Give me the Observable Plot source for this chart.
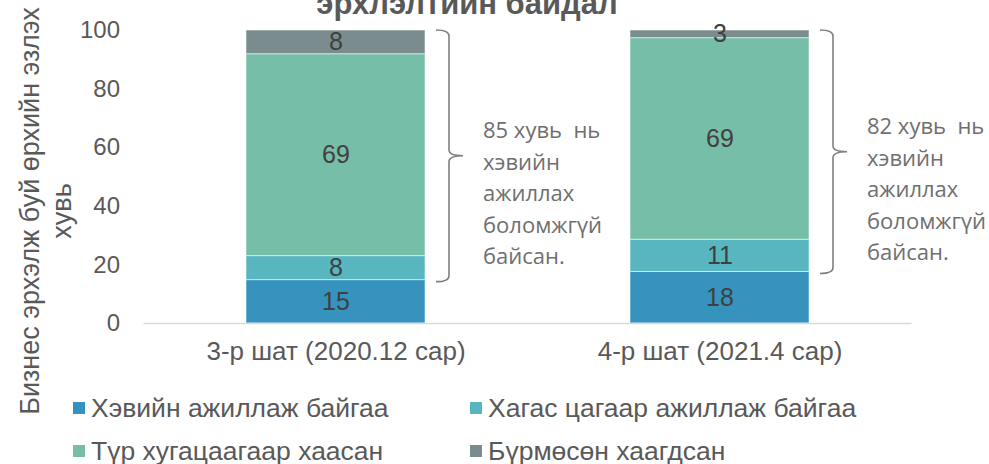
<!DOCTYPE html>
<html>
<head>
<meta charset="utf-8">
<script src="https://cdn.jsdelivr.net/npm/d3@7"></script>
<script src="https://cdn.jsdelivr.net/npm/@observablehq/plot@0.6"></script>
<style>
  html, body { margin: 0; padding: 0; background: #fff; }
  #wrap { position: relative; width: 989px; height: 464px; overflow: hidden; font-family: "Liberation Sans", Arial, sans-serif; }
  #title { position: absolute; top: -12px; left: 467px; transform: translateX(-50%); white-space: nowrap;
           font-weight: bold; font-size: 31px; line-height: 31px; color: #595959; }
  #chart { position: absolute; top: 0; left: 0; }
  #ylabel { position: absolute; left: 46px; top: 211px; transform: translate(-50%, -50%) rotate(-90deg);
            white-space: pre; text-align: center; font-size: 27px; line-height: 32px; color: #595959; }
  .leg { position: absolute; display: flex; align-items: center; white-space: nowrap; font-size: 26.5px; color: #595959; }
  .leg i { display: inline-block; width: 12px; height: 12px; margin-right: 6px; }
</style>
</head>
<body>
<div id="wrap">
  <div id="chart"></div>
  <div id="title">эрхлэлтийн байдал</div>
  <div id="ylabel"></div>
  <div id="legend"></div>
</div>
<script>
// ---- data ----
const stages = ["3-р шат (2020.12 сар)", "4-р шат (2021.4 сар)"];
const seriesNames = ["Хэвийн ажиллаж байгаа", "Хагас цагаар ажиллаж байгаа", "Түр хугацаагаар хаасан", "Бүрмөсөн хаагдсан"];
const seriesColors = ["#3593be", "#58b6c0", "#76bea8", "#7a8c8d"];
const normalOp   = [14.8, 17.6];
const partTime   = [8.2, 11.0];
const tempClosed = [68.9, 68.8];
const permClosed = [8.1, 2.6];
const notNormalShare = [85, 82];
const yTicks = [0, 20, 40, 60, 80, 100];
const yLabelLines = ["Бизнес эрхэлж буй өрхийн эзлэх", "хувь"];
const annotWords = ["хувь  нь", "хэвийн", "ажиллах", "боломжгүй", "байсан."];

// ---- build tables ----
const seriesValues = [normalOp, partTime, tempClosed, permClosed];
const rows = [];
stages.forEach((s, i) => seriesNames.forEach((n, k) => rows.push({stage: s, series: n, value: seriesValues[k][i]})));
const braceData = stages.map((s, i) => ({
  stage: s,
  lo: normalOp[i],
  hi: normalOp[i] + partTime[i] + tempClosed[i] + permClosed[i],
  text: notNormalShare[i] + " " + annotWords.join("\n")
}));

function braces(index, scales) {
  const sx = scales.x, sy = scales.y;
  let bw = typeof sx.bandwidth === "function" ? sx.bandwidth() : sx.bandwidth;
  if (!isFinite(bw)) bw = 179;
  const g = d3.create("svg:g").attr("fill", "none").attr("stroke", "#7f7f7f").attr("stroke-width", 1.6);
  braceData.forEach(d => {
    const xr = sx(d.stage) + bw;
    const x0 = xr + 11, xv = xr + 24, xt = xr + 38;
    const yt = sy(d.hi), yb = sy(d.lo) + 2, ym = (yt + yb) / 2, r = 6;
    g.append("path").attr("d",
      `M${x0},${yt} Q${xv},${yt} ${xv},${yt + r} L${xv},${ym - r} Q${xv},${ym} ${xt},${ym} ` +
      `M${xv},${ym - r} Q${xv},${ym} ${xt},${ym} Q${xv},${ym} ${xv},${ym + r} L${xv},${yb - r} Q${xv},${yb} ${x0},${yb}`);
  });
  return g.node();
}

const chart = Plot.plot({
  width: 989,
  height: 380,
  marginTop: 30,
  marginBottom: 57,
  marginLeft: 143.5,
  marginRight: 77.5,
  style: {fontFamily: "'Liberation Sans', Arial, sans-serif", color: "#595959", background: "transparent"},
  x: {domain: stages, paddingInner: 0.534, paddingOuter: 0.267},
  y: {domain: [0, 100]},
  color: {domain: seriesNames, range: seriesColors},
  marks: [
    Plot.barY(rows, {x: "stage", y: "value", fill: "series", stroke: "#ffffff", strokeOpacity: 0.55, strokeWidth: 1}),
    Plot.ruleY([0], {stroke: "#d9d9d9", strokeWidth: 1.5}),
    Plot.text(rows, Plot.stackY({x: "stage", y: "value", text: d => Math.round(d.value), fontSize: 25, fill: "#404040"})),
    braces,
    Plot.text(braceData, {x: "stage", y: d => (d.lo + d.hi) / 2, text: "text", textAnchor: "start", lineAnchor: "middle",
      lineHeight: 1.43, dx: 147, dy: 36, fontSize: 22, fill: "#6f6f6f", fontFamily: "'Open Sans', sans-serif"}),
    Plot.axisY({ticks: yTicks, tickSize: 0, tickPadding: 24, fontSize: 24, label: null}),
    Plot.axisX({tickSize: 0, tickPadding: 18, fontSize: 26, label: null})
  ]
});
document.getElementById("chart").appendChild(chart);

document.getElementById("ylabel").textContent = yLabelLines.join("\n");

// legend
const legPos = [[73, 408], [470, 408], [73, 451], [470, 451]];
const legend = document.getElementById("legend");
seriesNames.forEach((n, k) => {
  const el = document.createElement("div");
  el.className = "leg";
  el.style.left = legPos[k][0] + "px";
  el.style.top = (legPos[k][1] - 15) + "px";
  el.style.height = "30px";
  el.innerHTML = `<i style="background:${seriesColors[k]}"></i><span>${n}</span>`;
  legend.appendChild(el);
});
</script>
</body>
</html>
